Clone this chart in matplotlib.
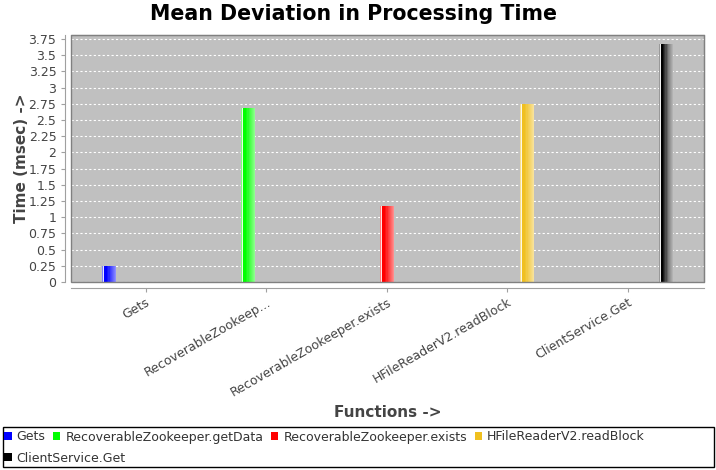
import numpy as np
import matplotlib
matplotlib.use('Agg')
import matplotlib.pyplot as plt
from matplotlib.patches import Rectangle, Patch
from matplotlib.ticker import MultipleLocator, FuncFormatter

categories = ['Gets', 'RecoverableZookeep...', 'RecoverableZookeeper.exists',
              'HFileReaderV2.readBlock', 'ClientService.Get']
series = ['Gets', 'RecoverableZookeeper.getData', 'RecoverableZookeeper.exists',
          'HFileReaderV2.readBlock', 'ClientService.Get']
values = [0.24, 2.68, 1.17, 2.74, 3.66]
colors = ['#0000ff', '#00ff00', '#ff0000', '#f0c020', '#000000']

W, H = 716, 470
fig = plt.figure(figsize=(W / 100, H / 100), dpi=100)
fig.patch.set_facecolor('white')
ax = fig.add_axes([71 / W, 1 - 282 / H, 633 / W, 247 / H])
ax.set_facecolor('#c0c0c0')

step = 0.155
bw = 0.108
# white-mix profile across a bar, like a gradient painter
prof = np.array([0.5, 0.9, 0.0, 0.0, 0.0, 0.08, 0.16, 0.24, 0.3, 0.36, 0.42, 0.48, 0.55])

def grad(c):
    rgb = np.array(matplotlib.colors.to_rgb(c))
    if c == '#000000':
        mix = np.array([0.6, 0.95, 0.0, 0.0, 0.1, 0.2, 0.3, 0.4, 0.5, 0.55, 0.6, 0.65, 0.7])
        return (rgb[None, :] * (1 - mix[:, None]) + mix[:, None])[None]
    return (rgb[None, :] * (1 - prof[:, None]) + prof[:, None])[None]

for j, (v, c) in enumerate(zip(values, colors)):
    x = j + (j - 2) * step
    ax.imshow(grad(c), extent=(x - bw / 2, x + bw / 2, 0, v), aspect='auto',
              interpolation='nearest', zorder=3)

ax.set_xlim(-0.62, 4.63)
ax.set_ylim(0, 3.81)
ax.yaxis.set_major_locator(MultipleLocator(0.25))
ax.yaxis.set_major_formatter(FuncFormatter(lambda v, p: ('%g' % v)))
ax.grid(axis='y', color='white', linestyle=(0, (2, 2)), linewidth=0.8)
ax.set_axisbelow(True)

for s in ['top', 'right']:
    ax.spines[s].set_color('#808080')
for s in ['left', 'bottom']:
    ax.spines[s].set_position(('outward', 4))
    ax.spines[s].set_color('#a0a0a0')
ax.add_patch(Rectangle((0, 0), 1, 1, transform=ax.transAxes, fill=False,
                       edgecolor='#808080', linewidth=1, clip_on=False, zorder=5))
ax.tick_params(axis='both', colors='#a0a0a0', labelcolor='#444444', labelsize=9,
               length=3, width=0.8)
ax.tick_params(axis='x', pad=3)

ax.set_xticks(range(len(categories)))
ax.set_xticklabels(categories)
for t in ax.get_xticklabels():
    t.set_rotation(30)
    t.set_ha('right')
    t.set_rotation_mode('anchor')

ax.set_ylabel('Time (msec) ->', fontsize=11, fontweight='bold', color='#444444')
ax.yaxis.set_label_coords(-0.066, 0.5)
ax.set_xlabel('Functions ->', fontsize=11, fontweight='bold', color='#444444')
ax.xaxis.set_label_coords(0.5, -0.497)
fig.text(353 / W, 1 - 14 / H, 'Mean Deviation in Processing Time', ha='center', va='center',
         fontsize=14.8, fontweight='bold')

# legend box
fig.patches.append(Rectangle((3 / W, 1 - 467 / H), 711 / W, 40 / H, transform=fig.transFigure,
                             fill=False, edgecolor='black', linewidth=1))
handles = [Patch(facecolor=c, edgecolor='none') for c in colors]
kw = dict(frameon=False, fontsize=9, handlelength=0.6, handleheight=0.6, handletextpad=0.4,
          columnspacing=0.6, borderpad=0, borderaxespad=0, labelcolor='#333333')
fig.legend(handles[:4], series[:4], ncol=4, loc='center left',
           bbox_to_anchor=(4 / W, 1 - 437 / H), **kw)
fig.legend(handles[4:], series[4:], ncol=1, loc='center left',
           bbox_to_anchor=(4 / W, 1 - 458 / H), **kw)

fig.savefig('out.png', dpi=100)
